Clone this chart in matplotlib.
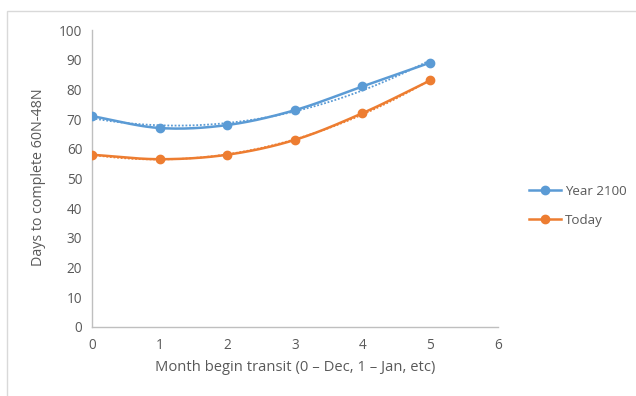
import numpy as np
import matplotlib
matplotlib.use("Agg")
import matplotlib.pyplot as plt
from matplotlib.patches import Rectangle
from matplotlib.lines import Line2D

plt.rcParams['font.family'] = ['Open Sans', 'DejaVu Sans']

months = [0, 1, 2, 3, 4, 5]
year_2100 = [71, 67, 68, 73, 81, 89]
today = [58, 56.5, 58, 63, 72, 83]
series_names = ["Year 2100", "Today"]
x_ticks = [0, 1, 2, 3, 4, 5, 6]
y_ticks = [0, 10, 20, 30, 40, 50, 60, 70, 80, 90, 100]

BLUE = "#5b9bd5"
ORANGE = "#ed7d31"
GRID_GRAY = "#bfbfbf"
TEXT_GRAY = "#595959"


def smooth(xs, ys, n=30):
    """Catmull-Rom spline through the points (like a smoothed line)."""
    xs = np.asarray(xs, float)
    ys = np.asarray(ys, float)
    px = np.concatenate([[2 * xs[0] - xs[1]], xs, [2 * xs[-1] - xs[-2]]])
    py = np.concatenate([[2 * ys[0] - ys[1]], ys, [2 * ys[-1] - ys[-2]]])
    outx, outy = [], []
    t = np.linspace(0, 1, n, endpoint=False)
    for i in range(1, len(px) - 2):
        for p, out in ((px, outx), (py, outy)):
            p0, p1, p2, p3 = p[i - 1], p[i], p[i + 1], p[i + 2]
            out.extend(0.5 * ((2 * p1) + (-p0 + p2) * t
                              + (2 * p0 - 5 * p1 + 4 * p2 - p3) * t ** 2
                              + (-p0 + 3 * p1 - 3 * p2 + p3) * t ** 3))
    outx.append(xs[-1])
    outy.append(ys[-1])
    return np.array(outx), np.array(outy)


fig = plt.figure(figsize=(6.36, 3.96), dpi=100)
fig.patch.set_facecolor("white")
fig.add_artist(Rectangle((7 / 636, -0.01), 1.0, 1 - 11 / 396 + 0.01,
                         transform=fig.transFigure, fill=False,
                         edgecolor="#d9d9d9", linewidth=1.0))

ax = fig.add_axes([92 / 636, 1 - 327 / 396, (497.7 - 92) / 636, (327 - 30) / 396])

for ys, color in ((year_2100, BLUE), (today, ORANGE)):
    sx, sy = smooth(months, ys)
    ax.plot(sx, sy, color=color, linewidth=1.8, solid_capstyle="round", zorder=3)
    ax.plot(months, ys, linestyle="none", marker="o", markersize=6,
            color=color, zorder=4)
    # polynomial trendline (order 2)
    coef = np.polyfit(months, ys, 2)
    tx = np.linspace(months[0], months[-1], 200)
    ax.plot(tx, np.polyval(coef, tx), color=color, linewidth=1.3,
            linestyle=(0, (1, 1)), zorder=2)

ax.set_xlim(0, 6)
ax.set_ylim(0, 100)
ax.set_xticks(x_ticks)
ax.set_yticks(y_ticks)
ax.tick_params(length=0, colors=TEXT_GRAY, labelsize=9.8)
ax.tick_params(axis="x", pad=8)
ax.tick_params(axis="y", pad=7)
for side in ("top", "right"):
    ax.spines[side].set_visible(False)
for side in ("left", "bottom"):
    ax.spines[side].set_color(GRID_GRAY)
    ax.spines[side].set_linewidth(1.0)

ax.set_xlabel("Month begin transit (0 \u2013 Dec, 1 \u2013 Jan, etc)",
              color=TEXT_GRAY, fontsize=10.6, labelpad=5)
fig.text(39 / 636, 1 - 177 / 396, "Days to complete 60N-48N", rotation=90,
         ha="center", va="center", color=TEXT_GRAY, fontsize=10.3)

handles = [Line2D([0], [0], color=BLUE, marker="o", markersize=6, linewidth=1.8),
           Line2D([0], [0], color=ORANGE, marker="o", markersize=6, linewidth=1.8)]
leg = fig.legend(handles, series_names, loc="center left",
                 bbox_to_anchor=(517 / 636, 1 - 206 / 396), frameon=False,
                 fontsize=9.6, handlelength=2.4, handletextpad=0.3,
                 labelspacing=1.2)
for t in leg.get_texts():
    t.set_color(TEXT_GRAY)

fig.savefig("out.png", dpi=100, facecolor="white")
